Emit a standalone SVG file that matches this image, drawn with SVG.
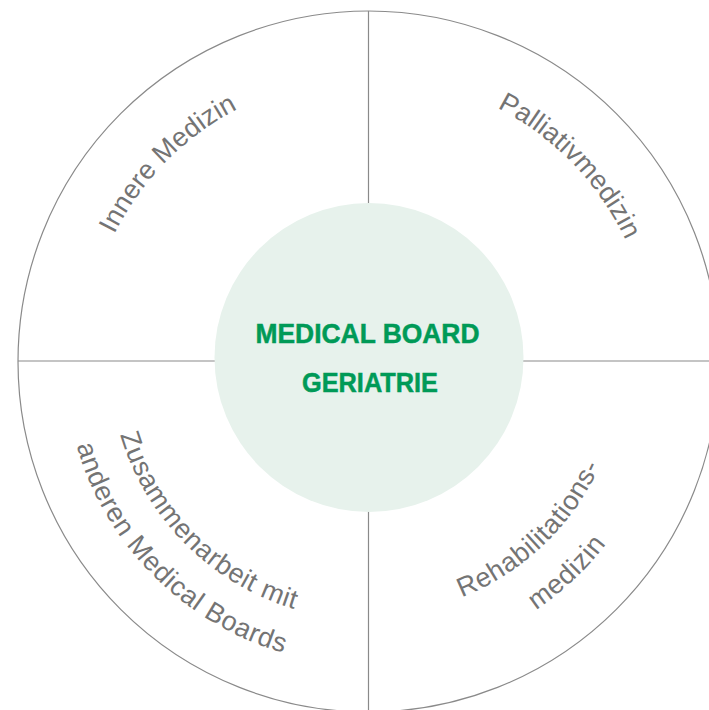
<svg xmlns="http://www.w3.org/2000/svg" xmlns:xlink="http://www.w3.org/1999/xlink" width="709" height="710" viewBox="0 0 709 710">
  <style>
    .rule { stroke: #8a8a8a; stroke-width: 1.2; fill: none; }
    .lbl { font-family: "Liberation Sans", Arial, sans-serif; font-size: 27px; fill: #747474; letter-spacing: 0.6px; }
    .top { letter-spacing: 0.1px; }
    .title { font-family: "Liberation Sans Narrow", "Liberation Sans", Arial, sans-serif; font-size: 27.5px; font-weight: bold; fill: #009a57; stroke: #009a57; stroke-width: 0.5; }
  </style>
  <defs>
    <path id="pTL" d="M 84.5 361 A 284 284 0 0 1 368.5 77"/>
    <path id="pTR" d="M 368.5 77 A 284 284 0 0 1 652.5 361"/>
    <path id="pBL1" d="M 109.5 361 A 259 259 0 0 0 368.5 620"/>
    <path id="pBL2" d="M 64.5 361 A 304 304 0 0 0 368.5 665"/>
    <path id="pBR1" d="M 368.5 615 A 254 254 0 0 0 622.5 361"/>
    <path id="pBR2" d="M 368.5 661 A 300 300 0 0 0 668.5 361"/>
  </defs>
  <rect width="709" height="710" fill="#ffffff"/>
  <g id="connectors">
    <circle class="rule" cx="368.5" cy="361.5" r="350.5"/>
    <line class="rule" x1="368.5" y1="11" x2="368.5" y2="710"/>
    <line class="rule" x1="18" y1="361" x2="709" y2="361"/>
  </g>
  <g id="center">
    <circle cx="369" cy="357.5" r="154.5" fill="#e7f2ec"/>
    <text class="title" x="367.5" y="343" text-anchor="middle" textLength="224" lengthAdjust="spacingAndGlyphs">MEDICAL BOARD</text>
    <text class="title" x="370" y="392" text-anchor="middle" textLength="136" lengthAdjust="spacingAndGlyphs">GERIATRIE</text>
  </g>
  <g id="innere-medizin">
    <text class="lbl top" text-anchor="middle"><textPath xlink:href="#pTL" href="#pTL" startOffset="49.5%">Innere Medizin</textPath></text>
  </g>
  <g id="palliativmedizin">
    <text class="lbl top" text-anchor="middle"><textPath xlink:href="#pTR" href="#pTR" startOffset="51%">Palliativmedizin</textPath></text>
  </g>
  <g id="zusammenarbeit">
    <text class="lbl" text-anchor="middle"><textPath xlink:href="#pBL1" href="#pBL1" startOffset="50%">Zusammenarbeit mit</textPath></text>
    <text class="lbl" text-anchor="middle"><textPath xlink:href="#pBL2" href="#pBL2" startOffset="50%">anderen Medical Boards</textPath></text>
  </g>
  <g id="rehabilitationsmedizin">
    <text class="lbl" text-anchor="middle"><textPath xlink:href="#pBR1" href="#pBR1" startOffset="48.5%">Rehabilitations-</textPath></text>
    <text class="lbl" text-anchor="middle"><textPath xlink:href="#pBR2" href="#pBR2" startOffset="48%">medizin</textPath></text>
  </g>
</svg>
